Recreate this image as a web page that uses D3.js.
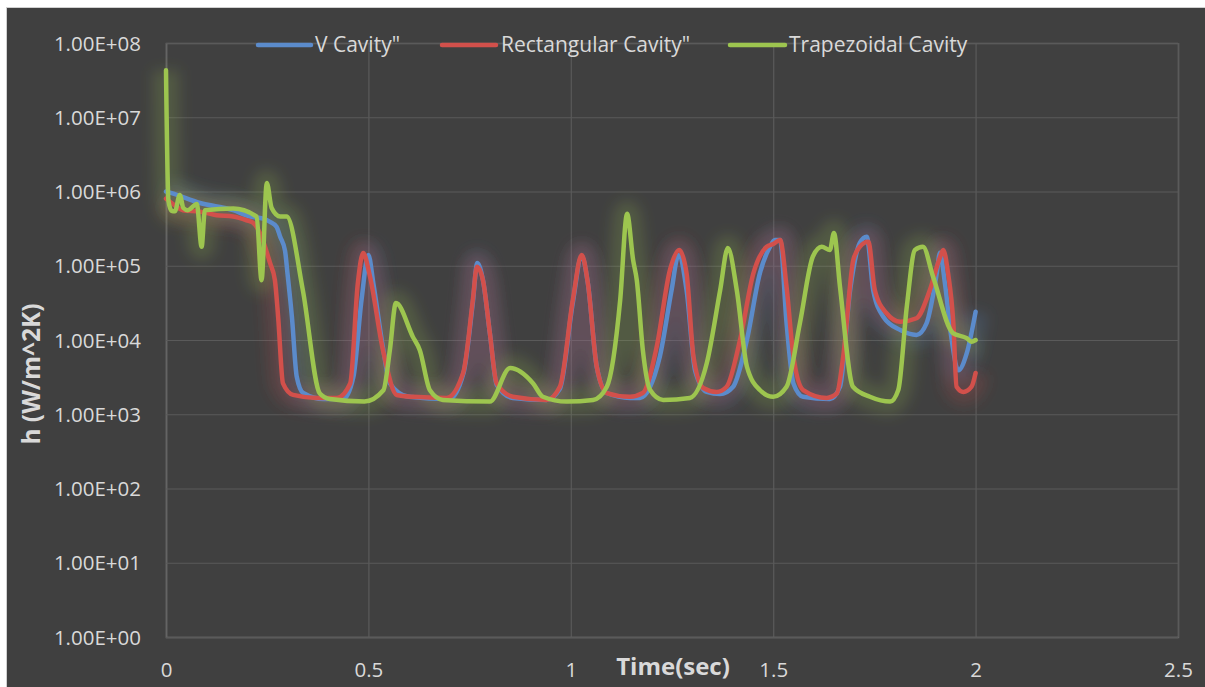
<!DOCTYPE html>
<html>
<head>
<meta charset="utf-8">
<script src="https://cdn.jsdelivr.net/npm/d3@7"></script>
<style>
  html, body { margin: 0; padding: 0; background: #ffffff; }
  svg { display: block; }
  text { font-family: "Open Sans", "Noto Sans", sans-serif; fill: #d9d9d9; }
</style>
</head>
<body>
<svg id="chart" width="1205" height="687"></svg>
<script>
// Heat transfer coefficient over time for three cavity shapes (log scale)
const seriesNames = ['V Cavity"', 'Rectangular Cavity"', 'Trapezoidal Cavity'];
const seriesColors = ["#5b8bcb", "#d2504b", "#9dc54f"];

const vTime = [0, 0.014, 0.084, 0.166, 0.208, 0.24, 0.257, 0.273, 0.282, 0.294, 0.300, 0.311, 0.323, 0.339,
  0.389, 0.438, 0.463, 0.483, 0.500, 0.512, 0.537, 0.553, 0.60, 0.70, 0.735, 0.758, 0.769, 0.783, 0.800,
  0.817, 0.857, 0.940, 0.973, 1.005, 1.027, 1.042, 1.064, 1.089, 1.146, 1.171, 1.220, 1.249, 1.266, 1.286,
  1.307, 1.336, 1.369, 1.401, 1.435, 1.467, 1.492, 1.504, 1.517, 1.533, 1.550, 1.574, 1.640, 1.665, 1.690,
  1.714, 1.731, 1.747, 1.772, 1.814, 1.854, 1.879, 1.904, 1.912, 1.924, 1.941, 1.957, 1.978, 2.0];
const vH = [1.0e6, 9.5e5, 7.0e5, 5.6e5, 4.6e5, 4.3e5, 3.9e5, 3.36e5, 2.46e5, 1.6e5, 8e4, 2.06e4, 3.2e3, 1.93e3,
  1.6e3, 1.6e3, 3.2e3, 3.46e4, 1.4e5, 5.9e4, 7.3e3, 2.6e3, 1.72e3, 1.6e3, 3.6e3, 3.2e4, 1.09e5, 6.4e4, 1.24e4,
  2.5e3, 1.66e3, 1.56e3, 2.2e3, 3.2e4, 1.35e5, 5.9e4, 4.4e3, 1.93e3, 1.66e3, 1.66e3, 6.0e3, 4.7e4, 1.4e5, 4.7e4,
  3.9e3, 2.0e3, 1.87e3, 2.35e3, 1.0e4, 7.9e4, 1.8e5, 2.22e5, 2.22e5, 1.69e4, 2.6e3, 1.72e3, 1.6e3, 2.35e3, 4.7e4,
  2.03e5, 2.46e5, 4.7e4, 2.06e4, 1.36e4, 1.17e4, 1.69e4, 7.9e4, 1.5e5, 5.9e4, 1.0e4, 3.9e3, 6.6e3, 2.4e4];

const rectTime = [0, 0.014, 0.042, 0.084, 0.125, 0.166, 0.199, 0.215, 0.232, 0.257, 0.269, 0.277, 0.289, 0.314,
  0.372, 0.422, 0.455, 0.474, 0.487, 0.504, 0.536, 0.570, 0.610, 0.693, 0.734, 0.758, 0.768, 0.783, 0.800,
  0.817, 0.857, 0.940, 0.973, 1.005, 1.027, 1.042, 1.064, 1.089, 1.146, 1.178, 1.212, 1.245, 1.268, 1.286,
  1.303, 1.327, 1.360, 1.385, 1.418, 1.451, 1.484, 1.500, 1.517, 1.533, 1.550, 1.574, 1.632, 1.657, 1.673,
  1.698, 1.714, 1.735, 1.751, 1.780, 1.814, 1.854, 1.887, 1.912, 1.920, 1.932, 1.945, 1.953, 1.970, 1.990, 2.0];
const rectH = [8.0e5, 7.0e5, 5.6e5, 5.35e5, 4.8e5, 4.6e5, 4.1e5, 3.8e5, 2.76e5, 1.09e5, 6.4e4, 2.06e4, 2.6e3, 1.82e3,
  1.66e3, 1.66e3, 2.6e3, 5.9e4, 1.49e5, 7.1e4, 7.3e3, 1.82e3, 1.72e3, 1.66e3, 3.6e3, 3.46e4, 9.7e4, 6.4e4, 1.24e4,
  2.6e3, 1.72e3, 1.56e3, 2.35e3, 3.46e4, 1.4e5, 5.9e4, 4.4e3, 1.93e3, 1.72e3, 1.93e3, 8.0e3, 8.8e4, 1.63e5, 7.9e4,
  6.0e3, 2.26e3, 2.0e3, 2.35e3, 1.0e4, 7.9e4, 1.8e5, 1.96e5, 2.22e5, 5.2e4, 6.0e3, 2.12e3, 1.66e3, 1.9e3, 6.0e3,
  1.2e5, 1.8e5, 2.1e5, 4.7e4, 2.29e4, 1.76e4, 1.96e4, 4.7e4, 1.3e5, 1.63e5, 7.9e4, 1.69e4, 2.35e3, 2.0e3, 2.35e3, 3.6e3];

const trapTime = [0, 0.006, 0.014, 0.022, 0.034, 0.043, 0.054, 0.076, 0.088, 0.096, 0.166, 0.224, 0.236, 0.249,
  0.261, 0.282, 0.298, 0.338, 0.380, 0.405, 0.49, 0.537, 0.553, 0.568, 0.610, 0.627, 0.652, 0.684, 0.800, 0.850,
  0.907, 0.931, 0.990, 1.055, 1.089, 1.122, 1.139, 1.154, 1.163, 1.178, 1.196, 1.228, 1.294, 1.336, 1.369, 1.388,
  1.410, 1.435, 1.467, 1.500, 1.533, 1.566, 1.598, 1.620, 1.640, 1.650, 1.665, 1.697, 1.739, 1.789, 1.809, 1.830,
  1.850, 1.870, 1.895, 1.944, 1.978, 1.990, 2.0];
const trapH = [4.3e7, 7.5e5, 5.5e5, 5.4e5, 9.0e5, 6.0e5, 5.6e5, 6.8e5, 1.8e5, 5.6e5, 5.9e5, 4.6e5, 6.4e4, 1.3e6,
  6.0e5, 4.6e5, 4.6e5, 4.7e4, 1.9e3, 1.6e3, 1.48e3, 2.1e3, 7.3e3, 3.15e4, 1.1e4, 7.3e3, 2.1e3, 1.56e3, 1.48e3, 4.2e3,
  2.6e3, 1.72e3, 1.48e3, 1.56e3, 2.35e3, 3.46e4, 5.0e5, 1.19e5, 6.4e4, 7.3e3, 2.12e3, 1.56e3, 1.66e3, 4.9e3, 4.7e4, 1.73e5,
  4.7e4, 4.4e3, 2.12e3, 1.72e3, 2.35e3, 1.69e4, 1.33e5, 1.8e5, 1.63e5, 2.76e5, 5.2e4, 2.35e3, 1.72e3, 1.48e3, 2.12e3, 2.8e4,
  1.63e5, 1.8e5, 7.1e4, 1.24e4, 1.06e4, 9.5e3, 1.0e4];

const xTicks = [0, 0.5, 1, 1.5, 2, 2.5];
const yTicks = [1e0, 1e1, 1e2, 1e3, 1e4, 1e5, 1e6, 1e7, 1e8];
const xTitle = "Time(sec)";
const yTitle = "h (W/m^2K)";

const svg = d3.select("#chart");
const W = 1205, H = 687;
const plot = { left: 166, right: 1178, top: 43, bottom: 637 };

// dark chart background
svg.append("rect").attr("x", 0).attr("y", 0).attr("width", W).attr("height", H).attr("fill", "#ffffff");
svg.append("rect").attr("x", 6.5).attr("y", 7.5).attr("width", W).attr("height", H)
  .attr("fill", "#404040").attr("stroke", "#d0d0d0").attr("stroke-width", 1);

const x = d3.scaleLinear().domain([0, 2.5]).range([plot.left, plot.right]);
const y = d3.scaleLog().domain([1, 1e8]).range([plot.bottom, plot.top]);

const sciFormat = v => {
  const e = Math.round(Math.log10(v));
  const m = v / Math.pow(10, e);
  return m.toFixed(2) + "E" + (e >= 0 ? "+" : "-") + String(Math.abs(e)).padStart(2, "0");
};

// gridlines and axes
const gx = svg.append("g").attr("transform", `translate(0,${plot.bottom})`)
  .call(d3.axisBottom(x).tickValues(xTicks).tickSize(-(plot.bottom - plot.top)).tickFormat(d3.format("")));
const gy = svg.append("g").attr("transform", `translate(${plot.left},0)`)
  .call(d3.axisLeft(y).tickValues(yTicks).tickSize(-(plot.right - plot.left)).tickFormat(sciFormat));

[gx, gy].forEach(g => {
  g.select(".domain").attr("stroke", "#646464").attr("stroke-width", 1.5);
  g.selectAll(".tick line").attr("stroke", "#5a5a5a").attr("stroke-width", 1.2);
  g.selectAll(".tick text").attr("fill", "#d9d9d9").style("font-size", "20.5px")
    .style("font-family", '"Open Sans", sans-serif');
});
gx.selectAll(".tick text").attr("y", 33).attr("dy", "0.35em");
gy.selectAll(".tick text").attr("x", -25).attr("dy", "0.35em");

// soft glow behind each series
const defs = svg.append("defs");
const glow = defs.append("filter").attr("id", "glow")
  .attr("x", "-20%").attr("y", "-20%").attr("width", "140%").attr("height", "140%");
glow.append("feGaussianBlur").attr("stdDeviation", 7);

const line = d3.line().x(d => x(d[0])).y(d => y(d[1])).curve(d3.curveMonotoneX);
const series = [
  { times: vTime, values: vH },
  { times: rectTime, values: rectH },
  { times: trapTime, values: trapH }
].map((s, i) => ({ name: seriesNames[i], color: seriesColors[i], pts: s.times.map((t, j) => [t, s.values[j]]) }));

const clip = defs.append("clipPath").attr("id", "plotClip");
clip.append("rect").attr("x", plot.left - 30).attr("y", plot.top - 30)
  .attr("width", plot.right - plot.left + 60).attr("height", plot.bottom - plot.top + 60);

const glowG = svg.append("g").attr("clip-path", "url(#plotClip)");
series.forEach(s => {
  glowG.append("path").attr("d", line(s.pts)).attr("fill", "none")
    .attr("stroke", s.color).attr("stroke-width", 26).attr("stroke-opacity", 0.2)
    .attr("stroke-linejoin", "round").attr("filter", "url(#glow)");
});
series.forEach(s => {
  svg.append("path").attr("d", line(s.pts)).attr("fill", "none")
    .attr("stroke", s.color).attr("stroke-width", 4.5)
    .attr("stroke-linejoin", "round").attr("stroke-linecap", "round");
});

// legend
const legendItems = [
  { x0: 258, x1: 311, tx: 315 },
  { x0: 442, x1: 496, tx: 501 },
  { x0: 730, x1: 785, tx: 789 }
];
const legend = svg.append("g");
legendItems.forEach((p, i) => {
  legend.append("line").attr("x1", p.x0).attr("x2", p.x1).attr("y1", 45).attr("y2", 45)
    .attr("stroke", seriesColors[i]).attr("stroke-width", 4.5).attr("stroke-linecap", "round");
  legend.append("text").attr("x", p.tx).attr("y", 45).attr("dy", "0.35em")
    .style("font-size", "21px").text(seriesNames[i]);
});

// axis titles
svg.append("text").attr("x", 673).attr("y", 667).attr("dy", "0.35em").attr("text-anchor", "middle")
  .style("font-size", "24px").style("font-weight", "bold").text(xTitle);
svg.append("text").attr("transform", "translate(31,374) rotate(-90)").attr("dy", "0.35em")
  .attr("text-anchor", "middle").style("font-size", "24.5px").style("font-weight", "bold").text(yTitle);
</script>
</body>
</html>
